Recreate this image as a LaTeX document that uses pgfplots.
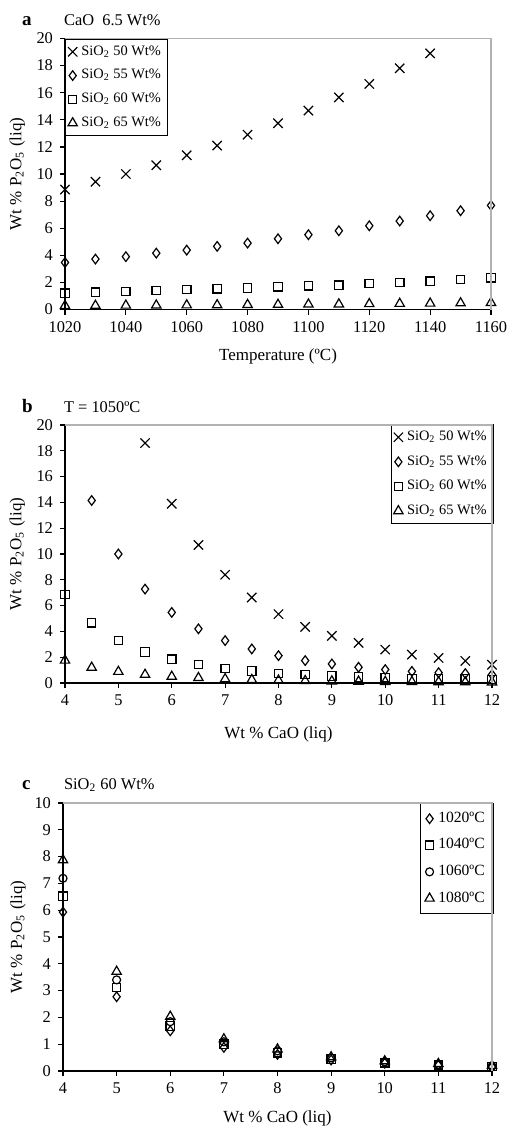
\documentclass[border=0pt]{standalone}
\usepackage{fontspec}
\setmainfont{Liberation Serif}
\usepackage{pgfplots}
\pgfplotsset{compat=1.18}

\pgfplotsset{
  panel/.style={
    scale only axis,
    axis lines=left,
    axis line style={-},
    every outer x axis line/.append style={-},
    every outer y axis line/.append style={-},
    y axis line style={line width=1pt},
    x axis line style={line width=0.7pt},
    tick align=outside,
    major tick length=2.5pt,
    tick style={black, line width=0.6pt},
    /pgf/number format/assume math mode=true,
    /pgf/number format/1000 sep={},
    tick label style={font=\fontsize{8.2}{8.2}\selectfont},
    label style={font=\fontsize{8.5}{9}\selectfont},
    ylabel={Wt \% P\textsubscript{2}O\textsubscript{5} (liq)},
    clip=false,
    legend style={font=\fontsize{7.2}{8}\selectfont, draw=black, line width=0.6pt,
      inner sep=1.2pt, row sep=1.6pt, cells={anchor=west}},
    legend image code/.code={\draw[#1] plot coordinates {(3pt,0pt)};},
    every axis plot/.append style={only marks, black, mark options={line width=0.6pt, solid}},
    extra description/.code={\draw[gray!60, line width=0.6pt]
      (axis description cs:0,1) -- (axis description cs:1,1) -- (axis description cs:1,0);},
  },
  mX/.style={mark=x, mark size=3.3pt},
  mD/.style={mark=diamond, mark size=2.4pt},
  mS/.style={mark=square, mark size=2.1pt},
  mT/.style={mark=triangle, mark size=2.7pt},
  mO/.style={mark=o, mark size=2pt},
}

\begin{document}
\begin{tikzpicture}
\path[use as bounding box] (0,0) rectangle (255.5pt,-564.5pt);

% panel a
\node[anchor=base west, font=\bfseries\fontsize{9.5}{10}\selectfont] at (7.5pt,-13pt) {a};
\node[anchor=base west, font=\fontsize{8.2}{8}\selectfont] at (28.5pt,-13pt) {CaO\ \ 6.5 Wt\%};
\begin{axis}[panel,
  at={(32.5pt,-154.75pt)}, anchor=south west,
  width=213pt, height=135.5pt,
  xmin=1020, xmax=1160, ymin=0, ymax=20,
  xtick={1020,1040,...,1160}, ytick={0,2,...,20},
  xlabel={Temperature (ºC)},
  xlabel style={at={(axis description cs:0.5,-0.173)}, anchor=center},
  ylabel style={at={(axis description cs:-0.112,0.5)}, anchor=center},
  legend style={at={(0,1)}, anchor=north west},
]
\addplot[mX] coordinates {
 (1020,8.85) (1030,9.43) (1040,10.0) (1050,10.65) (1060,11.38) (1070,12.1)
 (1080,12.9) (1090,13.75) (1100,14.68) (1110,15.65) (1120,16.65) (1130,17.8) (1140,18.9)};
\addlegendentry{SiO\textsubscript{2} 50 Wt\%}
\addplot[mD] coordinates {
 (1020,3.47) (1030,3.72) (1040,3.9) (1050,4.16) (1060,4.38) (1070,4.66) (1080,4.9)
 (1090,5.22) (1100,5.52) (1110,5.81) (1120,6.18) (1130,6.53) (1140,6.92) (1150,7.29) (1160,7.68)};
\addlegendentry{SiO\textsubscript{2} 55 Wt\%}
\addplot[mS] coordinates {
 (1020,1.21) (1030,1.28) (1040,1.33) (1050,1.4) (1060,1.48) (1070,1.53) (1080,1.58)
 (1090,1.67) (1100,1.75) (1110,1.8) (1120,1.92) (1130,2.0) (1140,2.09) (1150,2.22) (1160,2.34)};
\addlegendentry{SiO\textsubscript{2} 60 Wt\%}
\addplot[mT] coordinates {
 (1020,0.28) (1030,0.29) (1040,0.3) (1050,0.31) (1060,0.32) (1070,0.33) (1080,0.35)
 (1090,0.36) (1100,0.38) (1110,0.39) (1120,0.41) (1130,0.43) (1140,0.45) (1150,0.47) (1160,0.5)};
\addlegendentry{SiO\textsubscript{2} 65 Wt\%}
\end{axis}

% panel b
\node[anchor=base west, font=\bfseries\fontsize{9.5}{10}\selectfont] at (7.5pt,-206pt) {b};
\node[anchor=base west, font=\fontsize{8.2}{8}\selectfont] at (28.5pt,-206pt) {T = 1050ºC};
\begin{axis}[panel,
  at={(32.5pt,-341.5pt)}, anchor=south west,
  width=213.5pt, height=129pt,
  xmin=4, xmax=12, ymin=0, ymax=20,
  xtick={4,...,12}, ytick={0,2,...,20},
  xlabel={Wt \% CaO (liq)},
  xlabel style={at={(axis description cs:0.5,-0.2)}, anchor=center},
  ylabel style={at={(axis description cs:-0.112,0.5)}, anchor=center},
  legend style={at={(1.004,1.004)}, anchor=north east, row sep=2pt},
]
\addplot[mX] coordinates {
 (5.5,18.6) (6,13.9) (6.5,10.7) (7,8.39) (7.5,6.63) (8,5.34) (8.5,4.35) (9,3.65)
 (9.5,3.11) (10,2.59) (10.5,2.2) (11,1.94) (11.5,1.71) (12,1.42)};
\addlegendentry{SiO\textsubscript{2} 50 Wt\%}
\addplot[mD] coordinates {
 (4.5,14.15) (5,10.0) (5.5,7.28) (6,5.47) (6.5,4.2) (7,3.29) (7.5,2.64) (8,2.12)
 (8.5,1.74) (9,1.48) (9.5,1.22) (10,1.04) (10.5,0.9) (11,0.8) (11.5,0.73) (12,0.65)};
\addlegendentry{SiO\textsubscript{2} 55 Wt\%}
\addplot[mS] coordinates {
 (4,6.87) (4.5,4.66) (5,3.29) (5.5,2.41) (6,1.84) (6.5,1.42) (7,1.14) (7.5,0.93)
 (8,0.75) (8.5,0.65) (9,0.54) (9.5,0.47) (10,0.41) (10.5,0.36) (11,0.34) (11.5,0.31) (12,0.28)};
\addlegendentry{SiO\textsubscript{2} 60 Wt\%}
\addplot[mT] coordinates {
 (4,1.75) (4.5,1.2) (5,0.88) (5.5,0.65) (6,0.5) (6.5,0.4) (7,0.31) (7.5,0.25)
 (8,0.2) (8.5,0.17) (9,0.14) (9.5,0.12) (10,0.1) (10.5,0.09) (11,0.08) (11.5,0.07) (12,0.06)};
\addlegendentry{SiO\textsubscript{2} 65 Wt\%}
\end{axis}

% panel c
\node[anchor=base west, font=\bfseries\fontsize{9.5}{10}\selectfont] at (7.5pt,-394.5pt) {c};
\node[anchor=base west, font=\fontsize{8.2}{8}\selectfont] at (28.5pt,-394.5pt) {SiO\textsubscript{2} 60 Wt\%};
\begin{axis}[panel,
  at={(31.5pt,-535.5pt)}, anchor=south west,
  width=214.5pt, height=134pt,
  xmin=4, xmax=12, ymin=0, ymax=10,
  xtick={4,...,12}, ytick={0,1,...,10},
  xlabel={Wt \% CaO (liq)},
  xlabel style={at={(axis description cs:0.5,-0.175)}, anchor=center},
  ylabel style={at={(axis description cs:-0.105,0.5)}, anchor=center},
  legend style={at={(1.004,1)}, anchor=north east, font=\fontsize{7.8}{8.5}\selectfont,
    row sep=2.6pt, inner sep=2.2pt},
]
\addplot[mD] coordinates {
 (4,5.93) (5,2.77) (6,1.5) (7,0.88) (8,0.62) (9,0.41) (10,0.29) (11,0.21) (12,0.15)};
\addlegendentry{1020ºC}
\addplot[mS] coordinates {
 (4,6.52) (5,3.11) (6,1.68) (7,1.0) (8,0.68) (9,0.45) (10,0.31) (11,0.23) (12,0.17)};
\addlegendentry{1040ºC}
\addplot[mO] coordinates {
 (4,7.19) (5,3.4) (6,1.84) (7,1.09) (8,0.75) (9,0.49) (10,0.35) (11,0.25) (12,0.18)};
\addlegendentry{1060ºC}
\addplot[mT] coordinates {
 (4,7.87) (5,3.71) (6,2.03) (7,1.19) (8,0.81) (9,0.52) (10,0.37) (11,0.27) (12,0.2)};
\addlegendentry{1080ºC}
\end{axis}
\end{tikzpicture}
\end{document}
